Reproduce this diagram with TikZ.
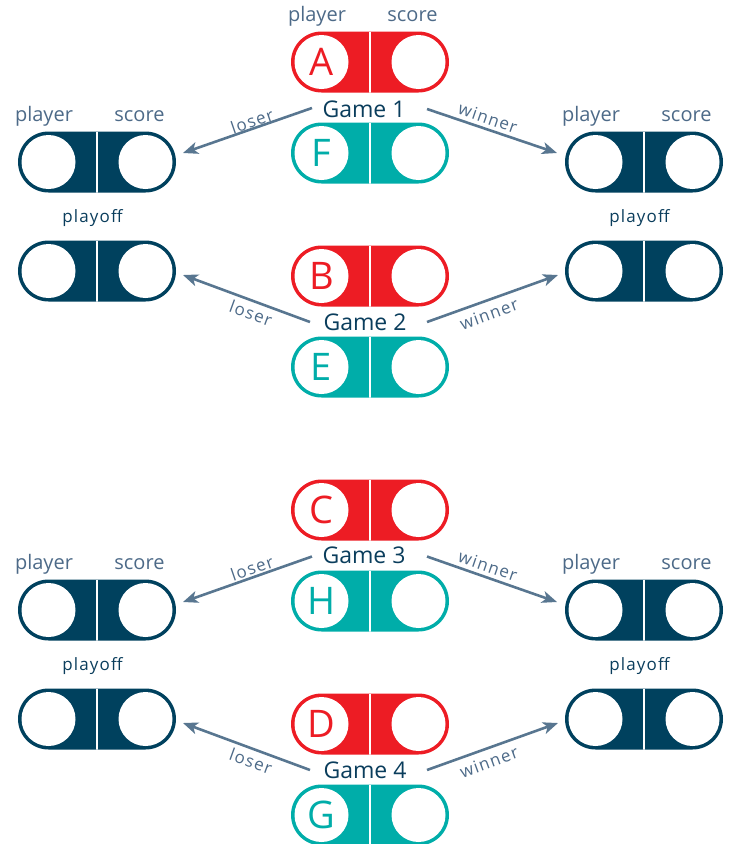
\documentclass[tikz,border=0pt]{standalone}
\usepackage{fontspec}
\setmainfont{Open Sans}
\newfontfamily\spacedfont[LetterSpace=7]{Open Sans}
\usetikzlibrary{arrows.meta,calc}

\definecolor{pillred}{HTML}{ED1C24}
\definecolor{pillteal}{HTML}{00ADA9}
\definecolor{pillnavy}{HTML}{00415E}
\definecolor{capgray}{HTML}{4D6A88}
\definecolor{arrowgray}{HTML}{587690}
\definecolor{gamenavy}{HTML}{0A3D5C}

\tikzset{
  % a score slot: stadium with two white wells and a white divider
  pill/.style={rectangle, rounded corners=30.5pt, fill=#1,
    minimum width=158pt, minimum height=61pt, inner sep=0pt, outer sep=0pt,
    path picture={
      \fill[white] ($(path picture bounding box.west)+(30.5pt,0)$) circle (27pt);
      \fill[white] ($(path picture bounding box.east)+(-30.5pt,0)$) circle (27pt);
      \draw[white, line width=2.2pt] (path picture bounding box.north) -- (path picture bounding box.south);
    }},
  seed/.style={text=#1, font=\fontsize{38}{38}\selectfont, inner sep=0pt},
  head/.style={text=capgray, font=\fontsize{20}{20}\selectfont, anchor=base, inner sep=0pt},
  playofflabel/.style={text=gamenavy, font=\spacedfont\fontsize{17}{17}\selectfont, anchor=base, inner sep=0pt},
  gamelabel/.style={text=gamenavy, font=\fontsize{23}{23}\selectfont, inner sep=0pt},
  outcome/.style={text=capgray, font=\spacedfont\fontsize{17}{17}\selectfont, inner sep=0pt},
  result/.style={draw=arrowgray, line width=2.6pt, -{Stealth[length=15pt,width=12pt,inset=4pt]}},
}

\begin{document}
\begin{tikzpicture}[x=1pt,y=1pt]
\useasboundingbox (0,0) rectangle (729,-844);

% ---------- upper bracket ----------
\node[pill=pillred]  (A) at (370,-62)  {};
\node[pill=pillteal] (F) at (370,-153) {};
\node[pill=pillred]  (B) at (370,-276) {};
\node[pill=pillteal] (E) at (370,-367) {};
\node[seed=pillred]  (sA) at ($(A.west)+(30.5,0)$) {A};
\node[seed=pillteal] (sF) at ($(F.west)+(30.5,0)$) {F};
\node[seed=pillred]  (sB) at ($(B.west)+(30.5,0)$) {B};
\node[seed=pillteal] (sE) at ($(E.west)+(30.5,0)$) {E};
\node[head] (hA1) at ($(A.center)+(-53,41)$) {player};
\node[head] (hA2) at ($(A.center)+(42.5,41)$) {score};

\node[pill=pillnavy] (L1) at (97,-162)  {};
\node[pill=pillnavy] (L2) at (97,-271)  {};
\node[pill=pillnavy] (R1) at (644,-162) {};
\node[pill=pillnavy] (R2) at (644,-271) {};
\node[head] (hL1a) at ($(L1.center)+(-53,41)$) {player};
\node[head] (hL1b) at ($(L1.center)+(42.5,41)$) {score};
\node[head] (hR1a) at ($(R1.center)+(-53,41)$) {player};
\node[head] (hR1b) at ($(R1.center)+(42.5,41)$) {score};
\node[playofflabel] (pL2) at ($(L2.center)+(-4.5,49)$) {playoff};
\node[playofflabel] (pR2) at ($(R2.center)+(-4.5,49)$) {playoff};

\node[gamelabel] (g1) at (364,-109) {Game 1};
\node[gamelabel] (g2) at (365,-322.5) {Game 2};

\coordinate (t1l) at ($(L1.east)+(7,9)$);
\coordinate (t1r) at ($(R1.west)+(-8,9)$);
\coordinate (t2l) at ($(L2.east)+(7,-4)$);
\coordinate (t2r) at ($(R2.west)+(-7,-4)$);
\draw[result] ($(g1.center)+(-52,1)$) -- (t1l);
\draw[result] ($(g1.center)+(63,0)$) -- (t1r);
\draw[result] ($(g2.center)+(-55,0.5)$) -- (t2l);
\draw[result] ($(g2.center)+(62,0.5)$) -- (t2r);
\node[outcome, rotate=19]  (o1l) at (252,-121) {loser};
\node[outcome, rotate=-19] (o1w) at (488,-118) {winner};
\node[outcome, rotate=-20] (o2l) at (251,-313) {loser};
\node[outcome, rotate=20]  (o2w) at (489,-314) {winner};

% ---------- lower bracket ----------
\node[pill=pillred]  (C) at (370,-510) {};
\node[pill=pillteal] (H) at (370,-601) {};
\node[pill=pillred]  (D) at (370,-724) {};
\node[pill=pillteal] (G) at (370,-815) {};
\node[seed=pillred]  (sC) at ($(C.west)+(30.5,0)$) {C};
\node[seed=pillteal] (sH) at ($(H.west)+(30.5,0)$) {H};
\node[seed=pillred]  (sD) at ($(D.west)+(30.5,0)$) {D};
\node[seed=pillteal] (sG) at ($(G.west)+(30.5,0)$) {G};

\node[pill=pillnavy] (L3) at (97,-610)  {};
\node[pill=pillnavy] (L4) at (97,-719)  {};
\node[pill=pillnavy] (R3) at (644,-610) {};
\node[pill=pillnavy] (R4) at (644,-719) {};
\node[head] (hL3a) at ($(L3.center)+(-53,41)$) {player};
\node[head] (hL3b) at ($(L3.center)+(42.5,41)$) {score};
\node[head] (hR3a) at ($(R3.center)+(-53,41)$) {player};
\node[head] (hR3b) at ($(R3.center)+(42.5,41)$) {score};
\node[playofflabel] (pL4) at ($(L4.center)+(-4.5,49)$) {playoff};
\node[playofflabel] (pR4) at ($(R4.center)+(-4.5,49)$) {playoff};

\node[gamelabel] (g3) at (364,-555.5) {Game 3};
\node[gamelabel] (g4) at (365,-770.5) {Game 4};

\coordinate (t3l) at ($(L3.east)+(7,8)$);
\coordinate (t3r) at ($(R3.west)+(-8,8)$);
\coordinate (t4l) at ($(L4.east)+(7,-4)$);
\coordinate (t4r) at ($(R4.west)+(-7,-4)$);
\draw[result] ($(g3.center)+(-52,-1)$) -- (t3l);
\draw[result] ($(g3.center)+(63,-1)$) -- (t3r);
\draw[result] ($(g4.center)+(-55,0.5)$) -- (t4l);
\draw[result] ($(g4.center)+(62,0.5)$) -- (t4r);
\node[outcome, rotate=19]  (o3l) at (252,-568) {loser};
\node[outcome, rotate=-19] (o3w) at (488,-566) {winner};
\node[outcome, rotate=-20] (o4l) at (251,-761) {loser};
\node[outcome, rotate=20]  (o4w) at (489,-762) {winner};
\end{tikzpicture}
\end{document}
